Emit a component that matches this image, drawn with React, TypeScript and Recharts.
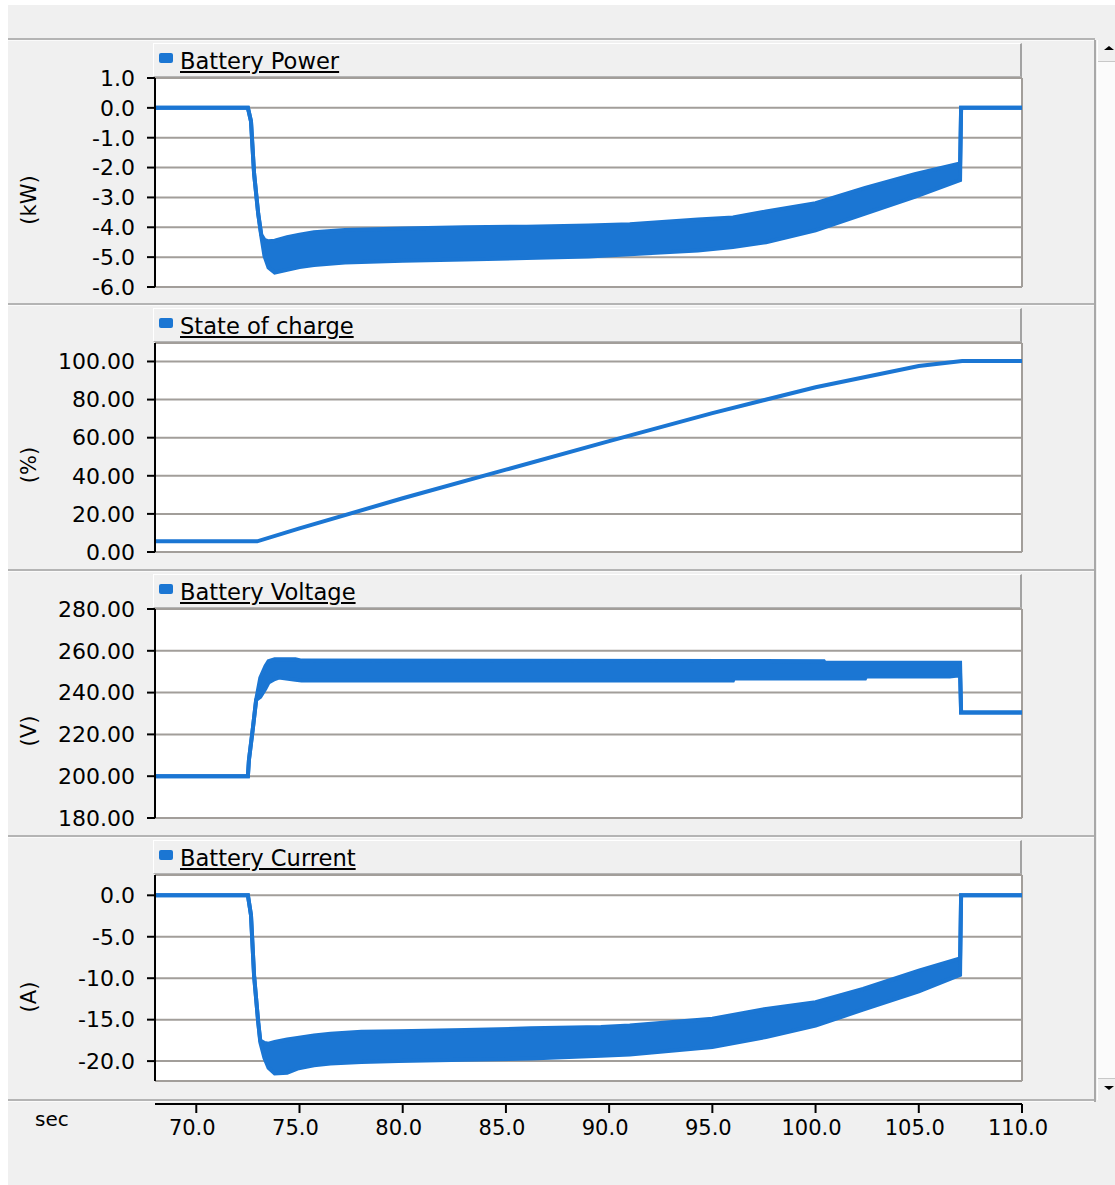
import React from 'react';
import { ComposedChart, Area, Line, XAxis, YAxis, CartesianGrid } from 'recharts';

// time axis (sec)
const timeTicks = [70, 75, 80, 85, 90, 95, 100, 105, 110];

// Battery Power (kW): envelope of the ripple band
const powerTime = [68, 72.5, 72.65, 72.8, 73.0, 73.15, 73.3, 73.5, 73.8, 74.4, 75.0, 75.7, 77.2, 80, 83, 86, 89, 91, 94.3, 96, 97.6, 100, 102.4, 104.8, 107.0, 107.05, 110];
const powerLow = [0, 0, -0.45, -2.2, -3.55, -4.3, -4.95, -5.35, -5.52, -5.42, -5.33, -5.26, -5.18, -5.12, -5.08, -5.03, -4.98, -4.9, -4.78, -4.66, -4.5, -4.1, -3.54, -2.98, -2.42, 0, 0];
const powerHigh = [0, 0, -0.45, -2.2, -3.55, -4.25, -4.42, -4.47, -4.45, -4.33, -4.25, -4.17, -4.09, -4.04, -4.0, -3.98, -3.94, -3.9, -3.74, -3.67, -3.47, -3.19, -2.68, -2.22, -1.86, 0, 0];
const powerTicks = [1, 0, -1, -2, -3, -4, -5, -6];

// State of charge (%)
const socTime = [68, 72.95, 75, 80, 85, 90, 95, 100, 105, 107.1, 110];
const socValue = [5.6, 5.6, 12.4, 28.2, 43.2, 58.2, 72.9, 86.5, 97.6, 100.3, 100.3];
const socTicks = [0, 20, 40, 60, 80, 100];

// Battery Voltage (V)
const voltTime = [68, 72.5, 72.55, 72.75, 72.9, 73.1, 73.35, 73.5, 73.8, 74.0, 74.8, 75.1, 86, 96, 96.05, 100.4, 100.45, 102.4, 102.45, 106.5, 107.0, 107.05, 110];
const voltLow = [200, 200, 207.7, 223.7, 236.5, 238, 242, 244.8, 246.5, 247.2, 246.2, 245.8, 245.8, 245.8, 246.8, 246.8, 246.8, 246.8, 247.7, 247.7, 248.3, 230.5, 230.5];
const voltHigh = [200, 200, 207.7, 223.7, 236.5, 247, 252.6, 255.0, 256.0, 256.0, 256.0, 255.3, 255.2, 255.1, 255.1, 255.0, 254.3, 254.3, 254.3, 254.3, 254.3, 230.5, 230.5];
const voltTicks = [180, 200, 220, 240, 260, 280];

// Battery Current (A)
const currTime = [68, 72.5, 72.65, 72.8, 73.0, 73.1, 73.3, 73.5, 73.8, 74.4, 74.9, 75.7, 76.5, 78, 79.8, 83, 86.2, 89.6, 91, 95, 97.6, 100, 102.3, 105, 107.0, 107.05, 110];
const currLow = [0, 0, -2.4, -9.7, -15.3, -17.7, -19.6, -20.8, -21.5, -21.4, -20.9, -20.5, -20.3, -20.1, -20.0, -19.85, -19.7, -19.35, -19.2, -18.3, -17.1, -15.7, -13.8, -11.6, -9.6, 0, 0];
const currHigh = [0, 0, -2.4, -9.7, -15.3, -17.5, -17.8, -17.9, -17.7, -17.4, -17.2, -16.9, -16.7, -16.45, -16.4, -16.25, -16.05, -15.9, -15.7, -14.9, -13.7, -12.9, -11.3, -9.1, -7.6, 0, 0];
const currTicks = [-20, -15, -10, -5, 0];

const BLUE = '#1b76d3';
const GRID = '#a29e9a';
const FONT = '"DejaVu Sans", Verdana, sans-serif';
const X_DOMAIN: [number, number] = [68, 110];
const CHART_W = 1030;
const MT = 14;

const bandRows = (time: number[], low: number[], high: number[]) =>
  time.map((t, i) => ({ t, range: [low[i], high[i]] }));

const powerRows = bandRows(powerTime, powerLow, powerHigh);
const voltRows = bandRows(voltTime, voltLow, voltHigh);
const currRows = bandRows(currTime, currLow, currHigh);
const socRows = socTime.map((t, i) => ({ t, v: socValue[i] }));

interface PanelProps {
  top: number;
  title: string;
  unit: string;
  domain: [number, number];
  ticks: number[];
  digits: number;
  data: any[];
  band: boolean;
  plotH?: number;
}

function Panel({ top, title, unit, domain, ticks, digits, data, band, plotH = 209 }: PanelProps) {
  return (
    <>
      <div style={{ position: 'absolute', left: 0, top: top + 39 - MT }}>
        <ComposedChart width={CHART_W} height={plotH + MT * 2} data={data} margin={{ top: MT, right: 8, bottom: MT, left: 0 }}>
          <CartesianGrid fill="#fff" stroke={GRID} strokeWidth={2} />
          <XAxis dataKey="t" type="number" domain={X_DOMAIN} ticks={timeTicks} height={0} tick={false} tickLine={false} axisLine={false} allowDataOverflow />
          <YAxis
            type="number"
            domain={domain}
            ticks={ticks}
            interval={0}
            width={155}
            allowDataOverflow
            tickFormatter={(v: number) => v.toFixed(digits)}
            axisLine={{ stroke: '#000', strokeWidth: 2 }}
            tickLine={{ stroke: '#000', strokeWidth: 2 }}
            tickSize={8}
            tickMargin={12}
            tick={{ fill: '#000', fontSize: 22, fontFamily: FONT }}
          />
          {band ? (
            <Area dataKey="range" type="linear" stroke={BLUE} strokeWidth={4} fill={BLUE} fillOpacity={1} dot={false} activeDot={false} isAnimationActive={false} />
          ) : (
            <Line dataKey="v" type="linear" stroke={BLUE} strokeWidth={4} dot={false} activeDot={false} isAnimationActive={false} />
          )}
        </ComposedChart>
      </div>
      <div
        style={{
          position: 'absolute', left: 153, top: top + 4, width: 866, height: 32,
          background: '#f0f0f0', borderTop: '1px solid #fff', borderLeft: '1px solid #fff',
          borderRight: '2px solid #a3a3a3', borderBottom: '1px solid #b5b5b5',
        }}
      >
        <div style={{ position: 'absolute', left: 5, top: 9, width: 14, height: 10, background: BLUE, borderRadius: 2 }} />
        <div style={{ position: 'absolute', left: 26, top: 4, fontSize: 22.6, lineHeight: '26px', color: '#000', textDecoration: 'underline', whiteSpace: 'nowrap' }}>
          {title}
        </div>
      </div>
      <div
        style={{
          position: 'absolute', left: 29, top: top + 161, fontSize: 21, color: '#000', whiteSpace: 'nowrap',
          transform: 'translate(-50%, -50%) rotate(-90deg)',
        }}
      >
        {unit}
      </div>
    </>
  );
}

const separators = [39, 304, 570, 836, 1100];

export default function App() {
  return (
    <div style={{ position: 'absolute', left: 0, top: 0, width: 1115, height: 1185, background: '#fff', overflow: 'hidden', fontFamily: FONT }}>
      <div style={{ position: 'absolute', left: 8, top: 5, right: 0, bottom: 0, background: '#f0f0f0' }} />
      {separators.map((y) => (
        <div key={y} style={{ position: 'absolute', left: 8, top: y - 1, width: 1087, height: 0, borderTop: '2px solid #b4b4b4', borderBottom: '1px solid #fafafa' }} />
      ))}
      <Panel top={39} title="Battery Power" unit="(kW)" domain={[-6, 1]} ticks={powerTicks} digits={1} data={powerRows} band />
      <Panel top={304} title="State of charge" unit="(%)" domain={[0, 109.7]} ticks={socTicks} digits={2} data={socRows} band={false} />
      <Panel top={570} title="Battery Voltage" unit="(V)" domain={[180, 280]} ticks={voltTicks} digits={2} data={voltRows} band />
      <Panel top={836} title="Battery Current" unit="(A)" domain={[-22.4, 2.45]} ticks={currTicks} digits={1} data={currRows} band plotH={206} />

      <div style={{ position: 'absolute', left: 0, top: 1090 }}>
        <ComposedChart width={CHART_W + 40} height={64} data={socRows} margin={{ top: 4, right: 48, bottom: 0, left: 155 }}>
          <XAxis
            dataKey="t"
            type="number"
            domain={X_DOMAIN}
            ticks={timeTicks}
            interval={0}
            height={50}
            allowDataOverflow
            tickFormatter={(v: number) => v.toFixed(1)}
            axisLine={{ stroke: '#000', strokeWidth: 2 }}
            tickLine={{ stroke: '#000', strokeWidth: 2 }}
            tickSize={9}
            tickMargin={7}
            tick={{ fill: '#000', fontSize: 21, fontFamily: FONT, dx: -4 }}
          />
          <YAxis hide />
        </ComposedChart>
      </div>
      <div style={{ position: 'absolute', left: 35, top: 1107, fontSize: 20, color: '#000' }}>sec</div>

      {/* scrollbar at the right edge */}
      <div style={{ position: 'absolute', left: 1094, top: 40, width: 2, height: 1062, background: '#a8a8a8' }} />
      <div style={{ position: 'absolute', left: 1097, top: 40, width: 18, height: 1060, background: '#f0f0f0', borderLeft: '1px solid #fff' }}>
        <div style={{ position: 'absolute', left: 0, top: 21, width: 18, height: 1016, background: '#fbfbfb', borderTop: '1px solid #c8c8c8', borderBottom: '1px solid #c8c8c8' }} />
        <div style={{ position: 'absolute', left: 6, top: 6, width: 0, height: 0, borderLeft: '5px solid transparent', borderRight: '5px solid transparent', borderBottom: '4px solid #000' }} />
        <div style={{ position: 'absolute', left: 6, top: 1046, width: 0, height: 0, borderLeft: '5px solid transparent', borderRight: '5px solid transparent', borderTop: '4px solid #000' }} />
      </div>
    </div>
  );
}
